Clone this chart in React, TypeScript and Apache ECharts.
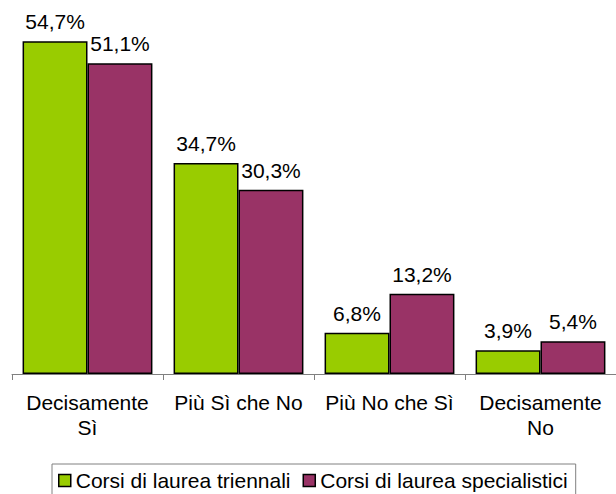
import React, { useEffect, useRef } from "react";
import * as echarts from "echarts";

const categories = ["Decisamente\nSì", "Più Sì che No", "Più No che Sì", "Decisamente\nNo"];
const seriesNames = ["Corsi di laurea triennali", "Corsi di laurea specialistici"];
const triennali = [54.7, 34.7, 6.8, 3.9];
const specialistici = [51.1, 30.3, 13.2, 5.4];
const colors = ["#99CC00", "#993366"];

const FONT = "'Liberation Sans', Arial, Helvetica, sans-serif";

export default function App() {
  const ref = useRef<HTMLDivElement>(null);
  useEffect(() => {
    if (!ref.current) return;
    const chart = echarts.init(ref.current, null, { renderer: "svg" });
    const fmt = (p: any) => Number(p.value).toFixed(1).replace(".", ",") + "%";
    const mk = (name: string, data: number[], color: string) => ({
      name,
      type: "bar",
      data,
      barGap: "0%",
      barCategoryGap: "14%",
      itemStyle: { color, borderColor: "#000", borderWidth: 1.5 },
      label: {
        show: true,
        position: "top",
        distance: 9,
        formatter: fmt,
        color: "#000",
        fontSize: 21,
        fontFamily: FONT,
      },
    });
    chart.setOption({
      animation: false,
      textStyle: { fontFamily: FONT },
      grid: { left: 12, right: -8, top: 9, bottom: 120, containLabel: false },
      xAxis: {
        type: "category",
        data: categories,
        axisLine: { show: true, lineStyle: { color: "#808080", width: 1 } },
        axisTick: { show: true, length: 6, lineStyle: { color: "#808080" } },
        axisLabel: {
          color: "#000",
          fontSize: 21,
          fontFamily: FONT,
          lineHeight: 25,
          margin: 16,
          interval: 0,
        },
      },
      yAxis: {
        type: "value",
        min: 0,
        max: 60,
        show: false,
        splitLine: { show: false },
      },
      legend: {
        left: 52,
        top: 464,
        orient: "horizontal",
        data: seriesNames,
        icon: "rect",
        itemWidth: 12,
        itemHeight: 12,
        itemGap: 12,
        padding: [6, 8, 4, 6],
        borderColor: "#808080",
        borderWidth: 1,
        itemStyle: { borderColor: "#000", borderWidth: 1.5 },
        textStyle: { color: "#000", fontSize: 21, fontFamily: FONT },
      },
      series: [mk(seriesNames[0], triennali, colors[0]), mk(seriesNames[1], specialistici, colors[1])],
    });
    return () => chart.dispose();
  }, []);
  return (
    <div
      ref={ref}
      style={{ position: "absolute", left: 0, top: 0, width: 616, height: 494, background: "#fff" }}
    />
  );
}
